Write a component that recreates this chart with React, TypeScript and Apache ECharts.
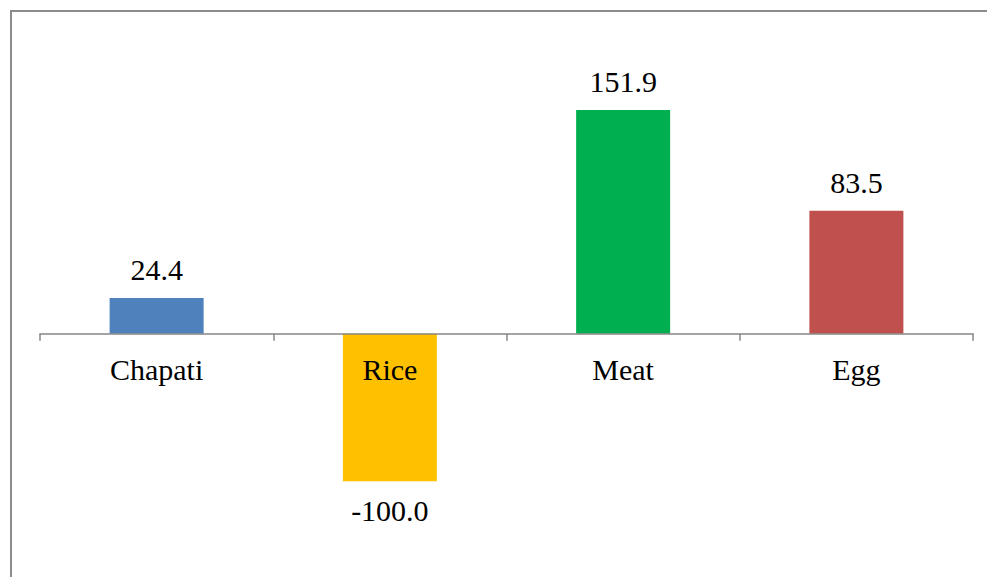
import React, { useEffect, useRef } from "react";
import * as echarts from "echarts";

const categories = ["Chapati", "Rice", "Meat", "Egg"];
const values = [24.4, -100.0, 151.9, 83.5];
const colors = ["#4f81bd", "#ffc000", "#00b050", "#c0504d"];

export default function App() {
  const ref = useRef<HTMLDivElement>(null);
  useEffect(() => {
    if (!ref.current) return;
    const chart = echarts.init(ref.current, null, { renderer: "svg" });
    const font = "Liberation Serif";
    chart.setOption({
      animation: false,
      backgroundColor: "#ffffff",
      textStyle: { fontFamily: font },
      grid: { left: 40, right: 14, top: 39, bottom: 22, containLabel: false, outerBoundsMode: "none" },
      graphic: [
        {
          type: "polyline",
          shape: { points: [[11, 577], [11, 11], [987, 11]] },
          style: { stroke: "#8c8c8c", lineWidth: 2, fill: null },
          silent: true,
        },
      ],
      xAxis: {
        type: "category",
        data: categories,
        z: 5,
        axisLine: { show: true, onZero: true, lineStyle: { color: "#868686", width: 1.5 } },
        axisTick: { show: true, length: 7, lineStyle: { color: "#868686", width: 1.5 } },
        axisLabel: { color: "#000", fontFamily: font, fontSize: 30, margin: -201 },
        splitLine: { show: false },
      },
      yAxis: {
        type: "value",
        min: -150,
        max: 200,
        interval: 50,
        show: false,
        splitLine: { show: false },
      },
      series: [
        {
          type: "bar",
          barWidth: 94,
          data: values.map((v, i) => ({
            value: v,
            itemStyle: { color: colors[i] },
            label: { position: v < 0 ? "bottom" : "top", distance: v < 0 ? 14 : 13 },
          })),
          label: {
            show: true,
            color: "#000",
            fontFamily: font,
            fontSize: 30,
            formatter: (p: any) => Number(p.value).toFixed(1),
          },
        },
      ],
    });
    return () => chart.dispose();
  }, []);
  return (
    <div
      ref={ref}
      style={{ position: "fixed", left: 0, top: 0, width: 987, height: 577 }}
    />
  );
}
